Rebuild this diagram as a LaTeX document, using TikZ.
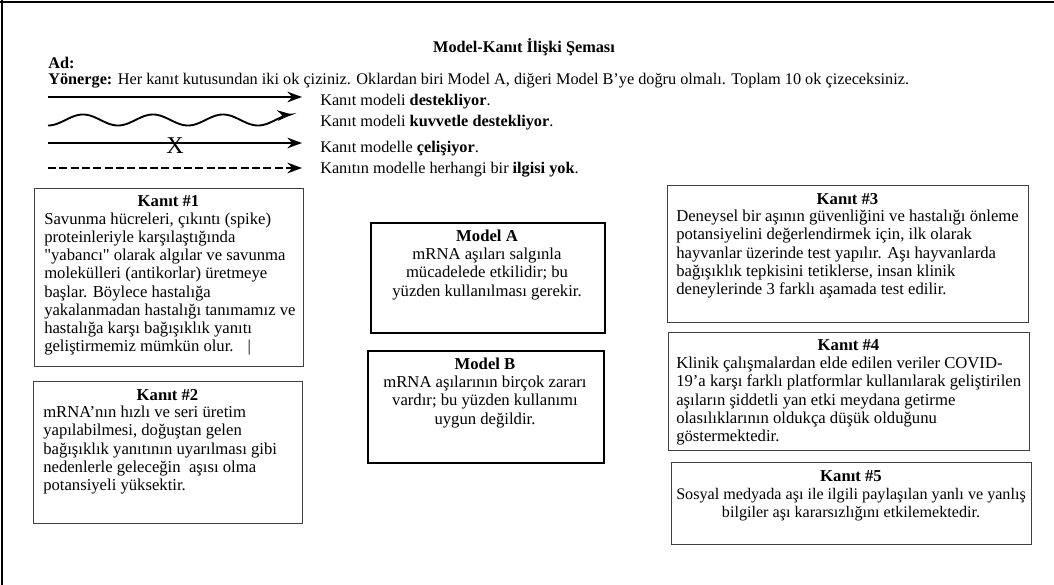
\documentclass[tikz,border=0pt]{standalone}
\usepackage{fontspec}
\setmainfont{Liberation Serif}
\newfontfamily\rawserif{Liberation Serif}
\usetikzlibrary{arrows.meta}

\begin{document}
\begin{tikzpicture}[
    >={Stealth[length=11pt,width=8pt]},
    x=0.75pt,
    y=-0.75pt,
    font=\fontsize{12.5}{13.7}\selectfont,
    every node/.style={inner sep=0pt},
    kbox/.style={draw=black!75, line width=0.8pt, anchor=north west},
    mbox/.style={draw, line width=1.6pt, anchor=north west},
    head/.style={font=\fontsize{12.5}{13.7}\selectfont\bfseries, anchor=base},
    body/.style={anchor=north west, align=left},
    cbody/.style={anchor=north, align=center},
    legarrow/.style={->, line width=1.4pt},
    legtext/.style={anchor=base west, font=\fontsize{12.2}{13.7}\selectfont}
]

\useasboundingbox (0,0) rectangle (1054,585);

% ---------------- page frame ----------------
\draw[line width=2.2pt] (0,2) -- (1054,2);
\draw[line width=1.5pt] (2,0) -- (2,585);

% ---------------- title and instructions ----------------
\node[head, font=\fontsize{12.2}{13.7}\selectfont\bfseries] (title) at (524,53) {Model-Kanıt İlişki Şeması};
\node[legtext] (ad) at (48,69) {\textbf{Ad:}};
\node[legtext] (yon) at (48,85) {\textbf{Yönerge:} Her kanıt kutusundan iki ok çiziniz. Oklardan biri Model A, diğeri Model B’ye doğru olmalı. Toplam 10 ok çizeceksiniz.};

% ---------------- legend ----------------
\coordinate (s1) at (48,97);
\coordinate (e1) at (302,97);
\draw[legarrow] (s1) -- (e1);
\node[legtext] (l1) at (320,106) {Kanıt modeli \textbf{destekliyor}.};

\draw[legarrow] plot[domain=48:292, samples=120, smooth] (\x,{120+5.5*cos((\x-48)*5.142857)});
\node[legtext] (l2) at (320,126.5) {Kanıt modeli \textbf{kuvvetle destekliyor}.};

\coordinate (s3) at (48,143);
\coordinate (e3) at (302,143);
\draw[legarrow] (s3) -- (e3);
\node[font=\fontsize{18}{18}\selectfont] (xm) at (175,146) {X};
\node[legtext] (l3) at (320,152.5) {Kanıt modelle \textbf{çelişiyor}.};

\coordinate (s4) at (48,168);
\coordinate (e4) at (302,168);
\draw[legarrow, dash pattern=on 6pt off 2.5pt] (s4) -- (e4);
\node[legtext] (l4) at (320,173) {Kanıtın modelle herhangi bir \textbf{ilgisi yok}.};

% ---------------- evidence boxes, left ----------------
\node[kbox, minimum width=201.75pt, minimum height=133.5pt] (k1) at (34,188) {};
\node[head] (k1h) at (168.5,206) {Kanıt \#1};
\node[body] (k1t) at (44,211) {\strut Savunma hücreleri, çıkıntı (spike)\\
    proteinleriyle karşılaştığında\\
    {\rawserif"}yabancı{\rawserif"} olarak algılar ve savunma\\
    molekülleri (antikorlar) üretmeye\\
    başlar. Böylece hastalığa\\
    yakalanmadan hastalığı tanımamız ve\\
    hastalığa karşı bağışıklık yanıtı\\
    geliştirmemiz mümkün olur. \ \ |};

\node[kbox, minimum width=201.75pt, minimum height=106.5pt] (k2) at (33,381) {};
\node[head] (k2h) at (167.5,400.5) {Kanıt \#2};
\node[body] (k2t) at (43,404.5) {\strut mRNA’nın hızlı ve seri üretim\\
    yapılabilmesi, doğuştan gelen\\
    bağışıklık yanıtının uyarılması gibi\\
    nedenlerle geleceğin \ aşısı olma\\
    potansiyeli yüksektir.};

% ---------------- model boxes ----------------
\node[mbox, minimum width=175.5pt, minimum height=82.5pt] (mA) at (370,222) {};
\node[head] (mAh) at (487,241.5) {Model A};
\node[cbody] (mAt) at (487,246.5) {\strut mRNA aşıları salgınla\\
    mücadelede etkilidir; bu\\
    yüzden kullanılması gerekir.};

\node[mbox, minimum width=177pt, minimum height=84pt] (mB) at (367,350) {};
\node[head] (mBh) at (485,369.5) {Model B};
\node[cbody] (mBt) at (485,374.5) {\strut mRNA aşılarının birçok zararı\\
    vardır; bu yüzden kullanımı\\
    uygun değildir.};

% ---------------- evidence boxes, right ----------------
\node[kbox, minimum width=270.75pt, minimum height=102.75pt] (k3) at (667,185) {};
\node[head] (k3h) at (847.5,204.5) {Kanıt \#3};
\node[body] (k3t) at (676,208.5) {\strut Deneysel bir aşının güvenliğini ve hastalığı önleme\\
    potansiyelini değerlendirmek için, ilk olarak\\
    hayvanlar üzerinde test yapılır. Aşı hayvanlarda\\
    bağışıklık tepkisini tetiklerse, insan klinik\\
    deneylerinde 3 farklı aşamada test edilir.};

\node[kbox, minimum width=270.75pt, minimum height=88.5pt] (k4) at (668,332) {};
\node[head] (k4h) at (848.5,350.5) {Kanıt \#4};
\node[body] (k4t) at (676,355.5) {\strut Klinik çalışmalardan elde edilen veriler COVID-\\
    19’a karşı farklı platformlar kullanılarak geliştirilen\\
    aşıların şiddetli yan etki meydana getirme\\
    olasılıklarının oldukça düşük olduğunu\\
    göstermektedir.};

\node[kbox, minimum width=270pt, minimum height=61.5pt] (k5) at (671,462) {};
\node[head] (k5h) at (851,481) {Kanıt \#5};
\node[cbody, font=\fontsize{12.1}{13.7}\selectfont] (k5t) at (851,486) {\strut Sosyal medyada aşı ile ilgili paylaşılan yanlı ve yanlış\\
    bilgiler aşı kararsızlığını etkilemektedir.};

\end{tikzpicture}
\end{document}
